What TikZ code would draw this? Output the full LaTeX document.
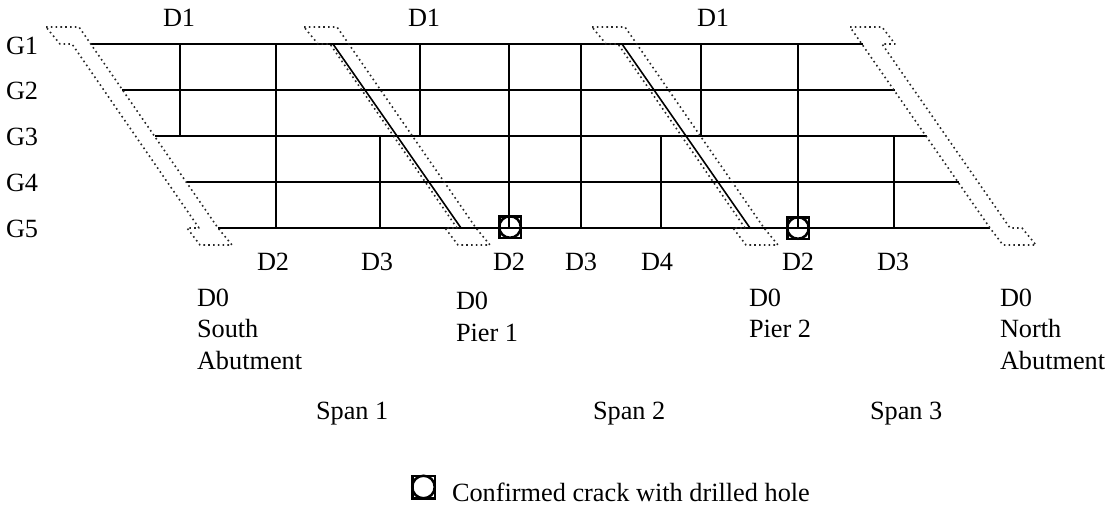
\documentclass[tikz,border=0pt]{standalone}
\usepackage{fontspec}
\setmainfont{Liberation Serif}
\tikzset{
  beam/.style={line width=1.6pt,draw=black},
  diaph/.style={line width=1.6pt,draw=black},
  joint/.style={line width=1.6pt,draw=black!85,dash pattern=on 1.6pt off 3.2pt,line join=round},
  lab/.style={anchor=base west,inner sep=0pt,outer sep=0pt,font=\fontsize{26.3}{30}\selectfont,text=black},
  crackbox/.style={draw=black,line width=2.5pt,minimum size=21.5pt,inner sep=0pt,rectangle},
  crackhole/.style={draw=black,line width=2.5pt,circle,minimum size=21.5pt,inner sep=0pt}
}
\begin{document}
\begin{tikzpicture}[x=1pt,y=-1pt]
\useasboundingbox (0,0) rectangle (1114,508);
% girders
\foreach \n/\xa/\xb/\y in {1/91/863/44,2/122/895/90,3/155/927/136,4/187/959/182,5/218/990/228}{
  \coordinate (g\n a) at (\xa,\y);
  \coordinate (g\n b) at (\xb,\y);
  \draw[beam] (g\n a) -- (g\n b);
}
% diaphragms
\foreach \n/\x/\ya/\yb in {a/180/44/136,b/276/44/228,c/380/136/228,d/420/44/136,e/509/44/228,f/581/44/228,g/661/136/228,h/701/44/136,i/798/44/228,j/894/136/228}{
  \coordinate (d\n t) at (\x,\ya);
  \coordinate (d\n b) at (\x,\yb);
  \draw[diaph] (d\n t) -- (d\n b);
}
% skew pier lines
\coordinate (p1t) at (333,44); \coordinate (p1b) at (461,228);
\coordinate (p2t) at (622,44); \coordinate (p2b) at (750,228);
\draw[diaph] (p1t) -- (p1b);
\draw[diaph] (p2t) -- (p2b);
% dotted joints
\foreach \d in {0,258,546}{
  \draw[joint] (46+\d,27) -- (79+\d,27) -- (218+\d,228) -- (232+\d,245) -- (200+\d,245) -- (187+\d,228) -- (199+\d,228) -- (72+\d,44) -- (60+\d,44) -- cycle;
}
\draw[joint] (850,27) -- (882,27) -- (895,44) -- (882,44) -- (1010,228) -- (1022,228) -- (1036,245) -- (1003,245) -- (990,228) -- cycle;
% cracks
\node[crackbox] (c1box) at (510,227) {};
\node[crackhole] (c1hole) at (510,227) {};
\node[crackbox] (c2box) at (798,228) {};
\node[crackhole] (c2hole) at (798,228) {};
\node[crackbox,minimum size=22.5pt] (lbox) at (423.5,487) {};
\node[crackhole,minimum size=22.5pt] (lhole) at (423.5,487) {};
% labels
\foreach \n/\x/\y/\t in {
  g1/6/55/G1,g2/6/100/G2,g3/6/146/G3,g4/6/191/G4,g5/6/237/G5,
  t1/163/27/D1,t2/408/27/D1,t3/697/27/D1,
  b1/257/270/D2,b2/361/270/D3,b3/493/270/D2,b4/565/270/D3,b5/641/270/D4,b6/782/270/D2,b7/877/270/D3,
  s1/197/306/D0,s2/197/337/South,s3/197/369/Abutment,
  p1/456/309/D0,p2/456/341/Pier 1,
  q1/749/306/D0,q2/749/337/Pier 2,
  n1/1000/306/D0,n2/1000/337/North,n3/1000/369/Abutment,
  sp1/316/419/Span 1,sp2/593/419/Span 2,sp3/870/419/Span 3,
  leg/452/501/Confirmed crack with drilled hole}{
  \node[lab] (l\n) at (\x,\y) {\t};
}
\end{tikzpicture}
\end{document}
